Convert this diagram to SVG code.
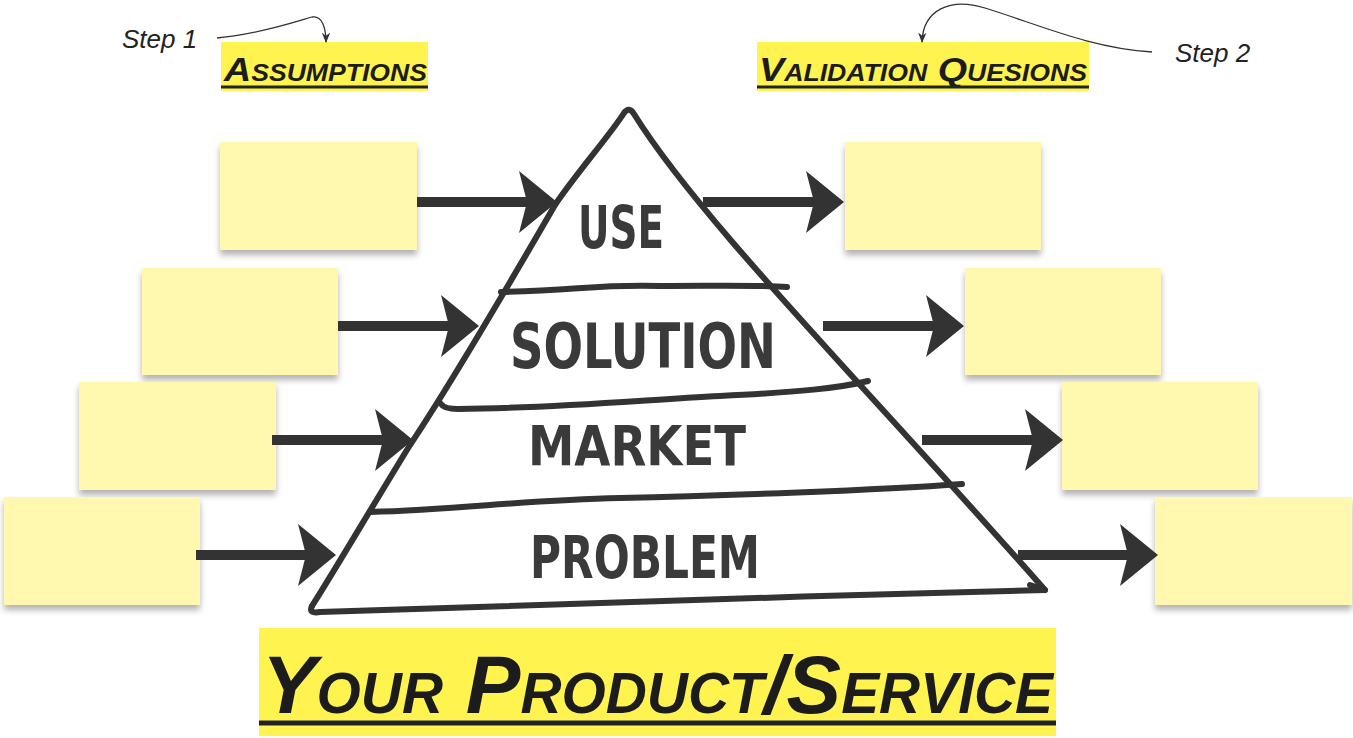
<svg xmlns="http://www.w3.org/2000/svg" width="1353" height="738" viewBox="0 0 1353 738">
<defs>
<style>
.note{fill:#fff8ae;filter:url(#sh)}
.hl{fill:#fff44f}
.head{font-family:"Liberation Sans",sans-serif;font-weight:bold;font-style:italic;font-variant:small-caps;fill:#1c1c1c}
.ul{stroke:#222;stroke-width:3}
.step{font-family:"Liberation Sans",sans-serif;font-style:italic;font-size:26px;fill:#222}
.pyr{fill:none;stroke:#333;stroke-width:6;stroke-linecap:round;stroke-linejoin:round}
.lvl{font-family:"DejaVu Sans Condensed","DejaVu Sans",sans-serif;font-weight:bold;fill:#3a3a3a;text-anchor:start}
.shaft{stroke:#333;stroke-width:10}
.ah{fill:#333}
.thin{fill:none;stroke:#333;stroke-width:1.3}
</style>
<filter id="sh" x="-10%" y="-10%" width="120%" height="130%">
<feDropShadow dx="0" dy="5" stdDeviation="3" flood-color="#000" flood-opacity="0.3"/>
</filter>
<marker id="sm" viewBox="0 0 10 10" refX="9" refY="5" markerWidth="8" markerHeight="8" orient="auto">
<path d="M0,1 L10,5 L0,9 L3,5 Z" fill="#333"/>
</marker>
<path id="head" d="M0,0 L-38,-31 L-30,0 L-38,31 Z"/>
</defs>

<g id="heading-assumptions">
<rect class="hl" x="221" y="42" width="207" height="49"/>
<text class="head" x="224" y="81" font-size="34" textLength="203" lengthAdjust="spacingAndGlyphs">Assumptions</text>
<line class="ul" x1="221" y1="87" x2="428" y2="87"/>
</g>
<g id="heading-validation">
<rect class="hl" x="757" y="42" width="332" height="49"/>
<text class="head" x="759" y="81" font-size="34" textLength="328" lengthAdjust="spacingAndGlyphs">Validation Quesions</text>
<line class="ul" x1="757" y1="87" x2="1089" y2="87"/>
</g>
<g id="step1">
<text class="step" x="122" y="48">Step 1</text>
</g>
<g id="step2">
<text class="step" x="1175" y="62">Step 2</text>
</g>
<g id="title">
<rect class="hl" x="259" y="628" width="797" height="108"/>
<text class="head" x="262" y="713" font-size="82" textLength="791" lengthAdjust="spacingAndGlyphs">Your Product/Service</text>
<line x1="259" y1="723" x2="1056" y2="723" stroke="#222" stroke-width="5"/>
</g>

<g id="pyramid">
<path class="pyr" d="M312,606 C335,570 370,510 410,445 C440,400 500,300 555,205 C575,175 610,135 624,113 Q629,106 634,114 C700,220 860,380 1045,590"/>
<path class="pyr" d="M312,606 Q308,614 320,612 C500,606 800,596 1045,590 L1030,585"/>
<path class="pyr" d="M501,292 C580,290 600,284 660,286 C720,286 760,285 787,287"/>
<path class="pyr" d="M441,404 Q444,409 458,409 C560,408 640,400 720,396 C800,392 840,388 868,381"/>
<path class="pyr" d="M370,512 C460,510 520,500 620,498 C720,496 880,490 962,484"/>
<text class="lvl" x="578" y="248" font-size="58" textLength="86" lengthAdjust="spacingAndGlyphs">USE</text>
<text class="lvl" x="510" y="368" font-size="62" textLength="266" lengthAdjust="spacingAndGlyphs">SOLUTION</text>
<text class="lvl" x="528" y="465" font-size="56" textLength="218" lengthAdjust="spacingAndGlyphs">MARKET</text>
<text class="lvl" x="530" y="578" font-size="58" textLength="230" lengthAdjust="spacingAndGlyphs">PROBLEM</text>
</g>

<g id="note-l1"><rect class="note" x="220" y="142" width="197" height="108"/></g>
<g id="note-l2"><rect class="note" x="142" y="268" width="196" height="107"/></g>
<g id="note-l3"><rect class="note" x="79" y="382" width="197" height="108"/></g>
<g id="note-l4"><rect class="note" x="4" y="497" width="196" height="108"/></g>
<g id="note-r1"><rect class="note" x="845" y="142" width="196" height="108"/></g>
<g id="note-r2"><rect class="note" x="965" y="268" width="196" height="107"/></g>
<g id="note-r3"><rect class="note" x="1062" y="382" width="196" height="108"/></g>
<g id="note-r4"><rect class="note" x="1155" y="497" width="197" height="108"/></g>

<g id="connectors">
<path class="thin" d="M217,38 C260,34 295,22 312,17 C322,15 326,28 326,42" marker-end="url(#sm)"/>
<path class="thin" d="M1152,52 C1090,48 1040,25 985,8 C950,-3 923,10 922,42" marker-end="url(#sm)"/>
<line class="shaft" x1="417" y1="202" x2="530" y2="202"/>
<use href="#head" class="ah" x="557" y="202"/>
<line class="shaft" x1="338" y1="326" x2="452" y2="326"/>
<use href="#head" class="ah" x="479" y="326"/>
<line class="shaft" x1="272" y1="440" x2="386" y2="440"/>
<use href="#head" class="ah" x="413" y="440"/>
<line class="shaft" x1="196" y1="555" x2="309" y2="555"/>
<use href="#head" class="ah" x="336" y="555"/>
<line class="shaft" x1="703" y1="202" x2="817" y2="202"/>
<use href="#head" class="ah" x="844" y="202"/>
<line class="shaft" x1="823" y1="326" x2="937" y2="326"/>
<use href="#head" class="ah" x="964" y="326"/>
<line class="shaft" x1="922" y1="440" x2="1036" y2="440"/>
<use href="#head" class="ah" x="1063" y="440"/>
<line class="shaft" x1="1018" y1="555" x2="1131" y2="555"/>
<use href="#head" class="ah" x="1158" y="555"/>
</g>
</svg>
